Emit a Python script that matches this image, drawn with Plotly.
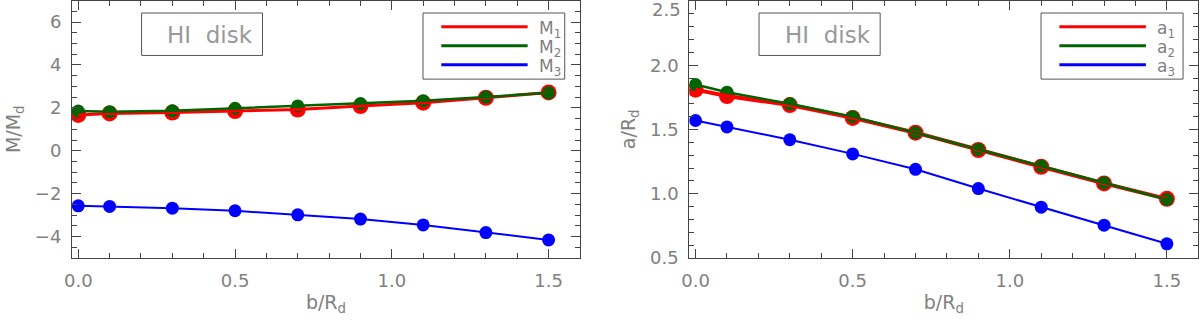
import plotly.graph_objects as go

# data
b = [0.0, 0.1, 0.3, 0.5, 0.7, 0.9, 1.1, 1.3, 1.5]

M1 = [1.67, 1.74, 1.78, 1.85, 1.92, 2.08, 2.24, 2.47, 2.72]
M2 = [1.85, 1.82, 1.86, 1.98, 2.09, 2.20, 2.33, 2.50, 2.70]
M3 = [-2.57, -2.60, -2.68, -2.80, -2.99, -3.19, -3.46, -3.82, -4.16]

a1 = [1.81, 1.76, 1.69, 1.59, 1.475, 1.34, 1.21, 1.08, 0.96]
a2 = [1.85, 1.79, 1.70, 1.60, 1.475, 1.345, 1.215, 1.085, 0.955]
a3 = [1.57, 1.52, 1.42, 1.31, 1.19, 1.04, 0.895, 0.755, 0.61]

left_names = ["M<sub>1</sub>", "M<sub>2</sub>", "M<sub>3</sub>"]
right_names = ["a<sub>1</sub>", "a<sub>2</sub>", "a<sub>3</sub>"]

a_ticks = [0.5, 1.0, 1.5, 2.0, 2.5]
a_ticktext = ["0.5", "1.0", "1.5", "2.0", ""]  # top label drawn separately, nudged inside

RED, GREEN, BLUE = "#ff0000", "#006400", "#0000ff"
colors = [RED, GREEN, BLUE]
msizes = [16, 13, 13]
lwidths_left = [3, 2.5, 2]
lwidths_right = [4, 2.5, 2]

FONT = "DejaVu Sans"
TXT = "#808080"
FRAME = "#444444"

fig = go.Figure()

panels = [
    ("x", "y", [M1, M2, M3], lwidths_left),
    ("x2", "y2", [a1, a2, a3], lwidths_right),
]
for xa, ya, series, lws in panels:
    # markers first, lines drawn on top
    for ys, c, ms in zip(series, colors, msizes):
        fig.add_trace(go.Scatter(x=b, y=ys, mode="markers", xaxis=xa, yaxis=ya,
                                 marker=dict(color=c, size=ms, line=dict(width=0)),
                                 showlegend=False, hoverinfo="skip"))
    for ys, c, lw in zip(series, colors, lws):
        fig.add_trace(go.Scatter(x=b, y=ys, mode="lines", xaxis=xa, yaxis=ya,
                                 line=dict(color=c, width=lw),
                                 showlegend=False))

axis_common = dict(
    showline=True, linecolor=FRAME, linewidth=1, mirror="allticks",
    ticks="inside", ticklen=9, tickcolor=FRAME, tickwidth=1,
    showgrid=False, zeroline=False, automargin=False,
    ticklabeloverflow="allow",
    tickfont=dict(family=FONT, size=18, color=TXT),
)

xcommon = dict(axis_common, range=[-0.02, 1.6], dtick=0.5, tick0=0, tickformat=".1f",
               minor=dict(ticks="inside", ticklen=5, dtick=0.1, tick0=0, tickcolor=FRAME, showgrid=False),
               ticklabelstandoff=6,
               title=dict(text="b/R<sub>d</sub>", font=dict(family=FONT, size=19, color=TXT), standoff=6))

fig.update_layout(
    width=1200, height=320,
    margin=dict(l=0, r=0, t=0, b=0),
    plot_bgcolor="white", paper_bgcolor="white",
    showlegend=False,
    xaxis=dict(xcommon, domain=[0.06, 0.4833], anchor="y"),
    xaxis2=dict(xcommon, domain=[0.5744, 0.9986], anchor="y2"),
    yaxis=dict(axis_common, domain=[0.194, 0.998], anchor="x", range=[-5, 7], dtick=2, tick0=0,
               minor=dict(ticks="inside", ticklen=5, dtick=0.5, tick0=0, tickcolor=FRAME, showgrid=False),
               ticklabelstandoff=6,
               title=dict(text="M/M<sub>d</sub>", font=dict(family=FONT, size=19, color=TXT), standoff=9)),
    yaxis2=dict(axis_common, domain=[0.194, 0.998], anchor="x2", range=[0.5, 2.503],
                tickmode="array", tickvals=a_ticks, ticktext=a_ticktext,
                minor=dict(ticks="inside", ticklen=5, dtick=0.1, tick0=0, tickcolor=FRAME, showgrid=False),
                ticklabelstandoff=6,
                title=dict(text="a/R<sub>d</sub>", font=dict(family=FONT, size=19, color=TXT), standoff=9)),
)

shapes = []
annotations = []
for xa, ya, names in [("x", "y", left_names), ("x2", "y2", right_names)]:
    xr, yr = xa + " domain", ya + " domain"
    # "HI disk" box
    shapes.append(dict(type="rect", xref=xr, yref=yr, x0=0.137, x1=0.375, y0=0.787, y1=0.952,
                       line=dict(color="#555555", width=1), fillcolor="rgba(0,0,0,0)"))
    annotations.append(dict(xref=xr, yref=yr, x=0.272, y=0.868, text="HI  disk", showarrow=False,
                            font=dict(family=FONT, size=23, color="#999999"),
                            xanchor="center", yanchor="middle"))
    # legend box
    shapes.append(dict(type="rect", xref=xr, yref=yr, x0=0.691, x1=0.97, y0=0.695, y1=0.952,
                       line=dict(color="#555555", width=1), fillcolor="white"))
    for i, (nm, c) in enumerate(zip(names, colors)):
        yy = 0.899 - i * 0.074
        shapes.append(dict(type="line", xref=xr, yref=yr, x0=0.727, x1=0.897, y0=yy, y1=yy,
                           line=dict(color=c, width=3)))
        annotations.append(dict(xref=xr, yref=yr, x=0.915, y=yy - 0.01, text=nm, showarrow=False,
                                font=dict(family=FONT, size=17, color=TXT),
                                xanchor="left", yanchor="middle"))

# top tick label of the right panel, pushed just inside the page like the original
annotations.append(dict(xref="x2 domain", yref="y2", x=0, y=a_ticks[-1], xanchor="right", yanchor="middle",
                        xshift=-6, yshift=-8, text="2.5", showarrow=False,
                        font=dict(family=FONT, size=18, color=TXT)))

fig.update_layout(shapes=shapes, annotations=annotations)

# the page body has a default 8px margin; drop it so the figure sits at the top-left corner
fig.write_html("out.html", config={"displayModeBar": False},
               post_script="document.body.style.margin='0';")
